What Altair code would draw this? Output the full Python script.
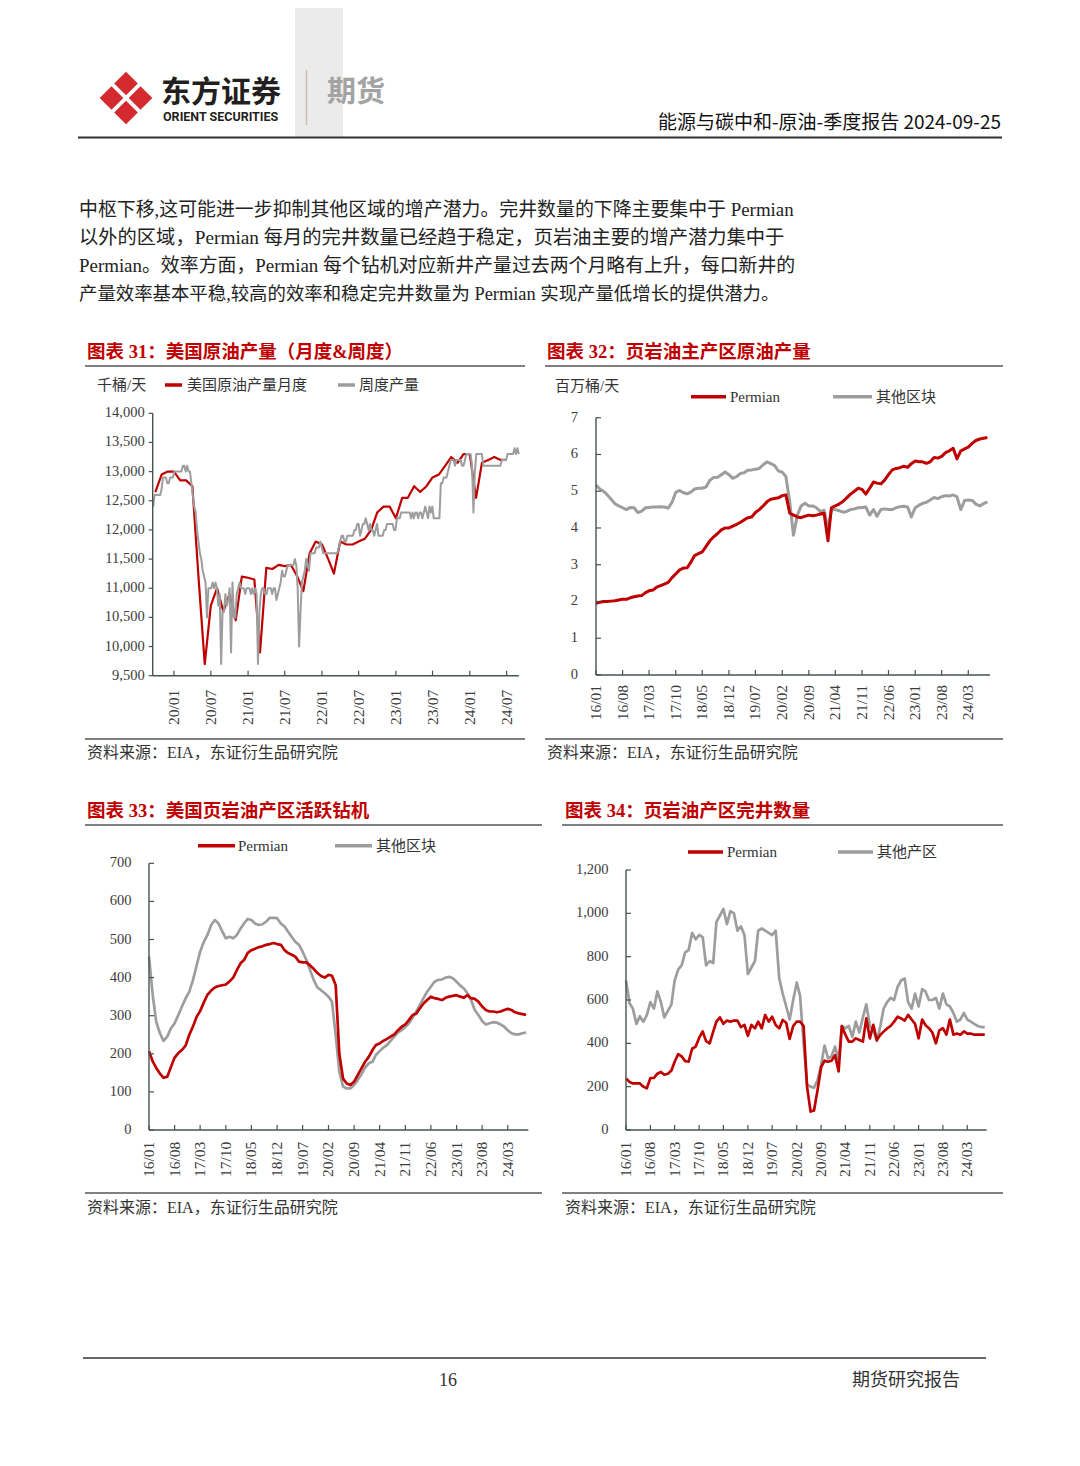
import altair as alt
import pandas as pd

# ---------------- data ----------------
# Chart 31: US crude production, monthly (k b/d), 2019-10 .. 2024-07
m31_start = (2019, 10)
m31_vals = [12650, 12950, 13000,
            13000, 12850, 12850, 12750, 11200, 9700, 10700, 11000, 10600, 10900, 10450, 11200,
            11180, 11150, 9900, 11350, 11330, 11400, 11380, 11400, 11200, 10950, 11600, 11800,
            11750, 11500, 11250, 11800, 11750, 11750, 11800, 11850, 12000, 12300, 12400, 12400,
            12200, 12550, 12550, 12750, 12650, 12750, 12900, 12950, 13100, 13250, 13150, 13300,
            13300, 12550, 13150, 13200, 13250, 13200, 13200]
# weekly production (k b/d), weekly from 2019-09-20
w31_start = "2019-09-20"
w31_vals = [12400, 12600, 12600, 12600, 12600, 12600, 12700, 12900, 12900, 12900,
            12800, 12800, 12900, 12900, 12900, 13000, 13000, 13000, 13000, 13000,
            13000, 13100, 13100, 13000, 13100, 13000, 13000, 12800, 12600, 12400,
            12300, 12000, 11800, 11600, 11500, 11300, 11200, 11100, 10500, 11000,
            11000, 11000, 11100, 11000, 11100, 11000, 10700, 10900, 9700, 10600,
            10600, 10900, 10700, 10800, 11000, 9900, 11100, 10500, 10500, 10900,
            11000, 11100, 11000, 11000, 11000, 10900, 11000, 11000, 11000, 10900,
            11000, 10900, 11000, 10900, 9700, 10600, 10900, 11000, 11000, 10900,
            10900, 11000, 11000, 11000, 10900, 11000, 11000, 10800, 10900, 11000,
            11100, 11300, 11200, 11200, 11300, 11400, 11400, 11400, 11400, 11400,
            11500, 11400, 11000, 10000, 10600, 11100, 11200, 11300, 11500, 11400,
            11300, 11600, 11600, 11600, 11600, 11700, 11700, 11700, 11800, 11700,
            11600, 11600, 11600, 11600, 11600, 11600, 11600, 11600, 11600, 11600,
            11600, 11700, 11800, 11900, 11900, 11800, 11800, 11900, 11900, 11900,
            11900, 11900, 12000, 12000, 12100, 12100, 11900, 12000, 12100, 12100,
            12200, 12100, 12000, 12100, 12000, 12000, 11900, 12000, 12100, 11900,
            11900, 11900, 11900, 12000, 12000, 12100, 12100, 12100, 12100, 12100,
            12000, 12000, 12200, 12200, 12200, 12300, 12300, 12300, 12300, 12300,
            12300, 12300, 12200, 12300, 12200, 12300, 12300, 12200, 12300, 12300,
            12200, 12300, 12400, 12300, 12200, 12400, 12300, 12400, 12200, 12200,
            12200, 12200, 12200, 12800, 12800, 12900, 12900, 12900, 13000, 13100,
            13200, 13200, 13200, 13100, 13200, 13200, 13200, 13200, 13100, 13100,
            13200, 13300, 13300, 13300, 13300, 13100, 12300, 13000, 13300, 13300,
            13300, 13300, 13300, 13100, 13100, 13100, 13100, 13100, 13100, 13100,
            13100, 13100, 13100, 13100, 13100, 13100, 13200, 13200, 13200, 13200,
            13300, 13300, 13300, 13300, 13300, 13400, 13300, 13400, 13300]

# Charts 32-34: monthly from 2016-01
mon_start = (2016, 1)
p32_permian = [1.95, 1.98, 2.0, 2.0, 2.01, 2.02, 2.04, 2.06, 2.06, 2.1, 2.13, 2.15,
               2.16, 2.24, 2.29, 2.31, 2.39, 2.43, 2.47, 2.52, 2.65, 2.75, 2.86, 2.91,
               2.92, 3.08, 3.25, 3.3, 3.35, 3.5, 3.65, 3.76, 3.85, 3.95, 4.0, 4.0,
               4.05, 4.1, 4.15, 4.22, 4.28, 4.3, 4.42, 4.5, 4.6, 4.71, 4.78, 4.8,
               4.82, 4.88, 4.9, 4.4, 4.35, 4.3, 4.28, 4.32, 4.35, 4.33, 4.35, 4.38,
               4.4, 3.65, 4.55, 4.6, 4.65, 4.72, 4.82, 4.92, 5.0, 5.08, 5.05, 4.92,
               5.08, 5.25, 5.22, 5.2, 5.3, 5.45, 5.58, 5.62, 5.64, 5.68, 5.65, 5.75,
               5.82, 5.8, 5.8, 5.76, 5.8, 5.92, 5.9, 5.95, 6.05, 6.1, 6.17, 5.88,
               6.1, 6.15, 6.2, 6.3, 6.38, 6.42, 6.44, 6.46]
p32_other = [5.17, 5.06, 5.0, 4.9, 4.78, 4.66, 4.6, 4.55, 4.5, 4.56, 4.55, 4.42,
             4.46, 4.55, 4.56, 4.57, 4.57, 4.58, 4.57, 4.54, 4.7, 4.97, 5.02, 4.96,
             4.93, 4.98, 5.06, 5.08, 5.08, 5.12, 5.3, 5.37, 5.38, 5.45, 5.52, 5.45,
             5.35, 5.4, 5.48, 5.5, 5.57, 5.58, 5.6, 5.62, 5.72, 5.8, 5.75, 5.7,
             5.55, 5.52, 5.4, 4.7, 3.8, 4.35, 4.6, 4.67, 4.6, 4.6, 4.55, 4.45,
             4.48, 3.98, 4.5, 4.5, 4.47, 4.43, 4.45, 4.5, 4.52, 4.55, 4.56, 4.57,
             4.35, 4.5, 4.32, 4.5, 4.52, 4.5, 4.5, 4.55, 4.58, 4.59, 4.57, 4.3,
             4.55, 4.62, 4.67, 4.7, 4.76, 4.83, 4.8, 4.85, 4.88, 4.87, 4.9, 4.85,
             4.5, 4.75, 4.76, 4.75, 4.65, 4.6, 4.66, 4.71]
p33_permian = [207, 180, 163, 148, 137, 140, 165, 190, 202, 210, 222, 250,
               272, 298, 312, 335, 355, 366, 374, 378, 380, 382, 390, 400,
               420, 438, 446, 465, 472, 476, 480, 482, 486, 488, 491, 488,
               486, 472, 465, 460, 455, 442, 440, 440, 432, 423, 412, 404,
               400, 407, 405, 380, 200, 135, 122, 118, 127, 144, 162, 179,
               192, 210, 223, 227, 234, 239, 245, 251, 262, 271, 277, 289,
               302, 306, 319, 332, 341, 350, 346, 344, 341, 347, 350, 352,
               354, 350, 347, 354, 346, 344, 337, 324, 315, 311, 311, 309,
               311, 315, 318, 315, 309, 306, 304, 302]
p33_other = [455, 354, 284, 254, 234, 245, 267, 280, 302, 324, 346, 363,
             394, 433, 468, 494, 512, 538, 551, 542, 521, 503, 507, 503,
             512, 529, 542, 554, 551, 542, 538, 540, 547, 557, 557, 556,
             542, 534, 521, 507, 494, 486, 468, 446, 420, 394, 374, 367,
             359, 350, 337, 249, 153, 114, 109, 109, 118, 131, 146, 164,
             175, 179, 197, 207, 216, 223, 234, 245, 256, 262, 271, 280,
             295, 312, 328, 346, 363, 376, 389, 394, 395, 400, 402, 398,
             389, 379, 372, 359, 341, 315, 302, 286, 277, 280, 283, 282,
             277, 271, 262, 254, 251, 251, 254, 256]
p34_permian = [238, 222, 215, 215, 215, 200, 192, 240, 240, 260, 268, 255,
               260, 275, 315, 350, 340, 318, 315, 375, 385, 425, 455, 410,
               400, 454, 500, 520, 490, 505, 500, 505, 505, 475, 485, 435,
               485, 469, 500, 469, 531, 500, 523, 485, 469, 508, 495, 420,
               480, 500, 500, 480, 200, 85, 90, 185, 290, 320, 315, 320,
               345, 270, 480, 440, 408, 408, 423, 415, 408, 515, 423, 485,
               415, 440, 454, 469, 480, 500, 523, 515, 505, 531, 510, 490,
               423, 510, 485, 470, 450, 400, 460, 470, 440, 510, 440, 445,
               440, 455, 445, 445, 440, 440, 440, 440]
p34_other = [690, 585, 560, 490, 525, 500, 530, 590, 560, 640, 590, 520,
             550, 580, 690, 740, 760, 820, 830, 910, 880, 900, 890, 760,
             780, 770, 960, 990, 1020, 950, 1010, 1000, 920, 940, 900, 720,
             750, 780, 920, 930, 920, 910, 900, 920, 700, 630, 570, 510,
             600, 680, 620, 400, 210, 200, 195, 230, 300, 390, 330, 340,
             385, 320, 480, 470, 480, 430, 500, 450, 520, 580, 480, 460,
             410, 480, 560, 590, 610, 600, 660, 690, 700, 590, 560, 630,
             570, 650, 640, 600, 600, 610, 560, 630, 580, 570, 540, 500,
             510, 540, 510, 500, 490, 480, 475, 475]

ticks31 = ["2020/01/01", "2020/07/01", "2021/01/01", "2021/07/01", "2022/01/01",
           "2022/07/01", "2023/01/01", "2023/07/01", "2024/01/01", "2024/07/01"]
ticks_mon = ["2016/01/01", "2016/08/01", "2017/03/01", "2017/10/01", "2018/05/01",
             "2018/12/01", "2019/07/01", "2020/02/01", "2020/09/01", "2021/04/01",
             "2021/11/01", "2022/06/01", "2023/01/01", "2023/08/01", "2024/03/01"]
yt31 = [9500, 10000, 10500, 11000, 11500, 12000, 12500, 13000, 13500, 14000]
yt32 = [0, 1, 2, 3, 4, 5, 6, 7]
yt33 = [0, 100, 200, 300, 400, 500, 600, 700]
yt34 = [0, 200, 400, 600, 800, 1000, 1200]


def months(start, n):
    y, m = start
    out = []
    for i in range(n):
        k = (m - 1) + i
        out.append(f"{y + k // 12}/{k % 12 + 1:02d}/01")
    return out


m31_dates = months(m31_start, len(m31_vals))
w31_dates = list(pd.date_range(w31_start, periods=len(w31_vals), freq="7D").strftime("%Y/%m/%d"))
mon_dates = months(mon_start, len(p32_permian))

# ---------------- style ----------------
W, H = 1064, 1450
M = 8
RED = "#c00000"
GRAY = "#9d9d9d"
INK = "#333333"
AX = "#475252"
LAB = "#3c3c3c"
SERIF = "Liberation Serif, Noto Sans CJK SC"
SANS = "Noto Sans CJK SC"
ONE = alt.Data(values=[{"k": 0}])


def dt(s):
    y, m, d = (int(p) for p in s.split("/"))
    return alt.DateTime(year=y, month=m, date=d)


def text(s, x, y, size, color=INK, weight="normal", font=SERIF, align="left"):
    return alt.Chart(ONE).mark_text(
        text=s, fontSize=size, color=color, fontWeight=weight, font=font,
        align=align, baseline="middle").encode(x=alt.value(x - M), y=alt.value(y - M))


def hrule(x1, x2, y, color=INK, w=1.2):
    return alt.Chart(ONE).mark_rule(color=color, strokeWidth=w).encode(
        x=alt.value(x1 - M), x2=alt.value(x2 - M), y=alt.value(y - M))


def panel(series, xdom, xpx, ydom, ypx, xticks, yticks, yfmt, xpad, ypad, ytick_dir):
    xs = alt.Scale(domain=[dt(xdom[0]), dt(xdom[1])], range=[xpx[0] - M, xpx[1] - M])
    ys = alt.Scale(domain=list(ydom), range=[ypx[0] - M, ypx[1] - M], nice=False, zero=False)
    X = lambda f: alt.X(f, scale=xs, axis=None)
    Y = lambda f: alt.Y(f, scale=ys, axis=None)
    layers = []
    for dates, vals, color, width in series:
        df = pd.DataFrame({"d": dates, "v": vals})
        layers.append(alt.Chart(df).mark_line(color=color, strokeWidth=width, strokeJoin="round").encode(
            x=X("d:T"), y=Y("v:Q")))
    # axis lines
    dom = pd.DataFrame({"a": [xdom[0]], "b": [xdom[1]], "lo": [ydom[0]], "hi": [ydom[1]]})
    layers.append(alt.Chart(dom).mark_rule(color=AX, strokeWidth=1.4).encode(
        x=X("a:T"), x2="b:T", y=Y("lo:Q")))
    layers.append(alt.Chart(dom).mark_rule(color=AX, strokeWidth=1.4).encode(
        x=X("a:T"), y=Y("lo:Q"), y2="hi:Q"))
    # x ticks (inward) and rotated labels
    tx = pd.DataFrame({"d": xticks, "b": [ydom[0]] * len(xticks)})
    layers.append(alt.Chart(tx).mark_rule(color=AX, strokeWidth=1.2, y2Offset=-5).encode(
        x=X("d:T"), y=Y("b:Q"), y2="b:Q"))
    layers.append(alt.Chart(tx).mark_text(angle=270, align="right", baseline="middle",
                                          font="Liberation Serif", fontSize=15.5, color=LAB,
                                          yOffset=xpad).encode(
        x=X("d:T"), y=Y("b:Q"), text=alt.Text("d:T", format="%y/%m")))
    # y ticks and labels
    ty = pd.DataFrame({"v": yticks, "d": [xdom[0]] * len(yticks)})
    layers.append(alt.Chart(ty).mark_rule(color=AX, strokeWidth=1.2, x2Offset=ytick_dir).encode(
        x=X("d:T"), x2="d:T", y=Y("v:Q")))
    layers.append(alt.Chart(ty).mark_text(align="right", baseline="middle",
                                          font="Liberation Serif", fontSize=14.5, color=LAB,
                                          xOffset=-ypad).encode(
        x=X("d:T"), y=Y("v:Q"), text=alt.Text("v:Q", format=yfmt)))
    return alt.layer(*layers)


layers = []

# ---------------- header ----------------
layers.append(alt.Chart(ONE).mark_rect(color="#ebebeb").encode(
    x=alt.value(295 - M), x2=alt.value(343 - M), y=alt.value(0), y2=alt.value(137 - M)))
layers.append(alt.Chart(ONE).mark_rule(color="#c9bfae", strokeWidth=1.5).encode(
    x=alt.value(306.5 - M), y=alt.value(70 - M), y2=alt.value(125 - M)))
for cx, cy in [(126, 83.5), (126, 112.5), (111.5, 98), (140.5, 98)]:
    layers.append(alt.Chart(ONE).mark_point(shape="diamond", filled=True, size=560, color="#d42a2f",
                                            opacity=1, strokeWidth=0).encode(
        x=alt.value(cx - M), y=alt.value(cy - M)))
layers.append(text("东方证券", 161, 93, 30, color="#231f20", weight="bold", font=SANS))
layers.append(text("ORIENT SECURITIES", 163, 117, 12.5, color="#231f20", weight="bold", font="Roboto"))
layers.append(text("期货", 327, 93, 29, color="#a3a3a3", weight="bold", font=SANS))
layers.append(text("能源与碳中和-原油-季度报告 2024-09-25", 1001, 123, 19, color="#111111",
                   font=SANS, align="right"))
layers.append(hrule(78, 1002, 137.5, color="#333333", w=2))

# ---------------- paragraph ----------------
para = ["中枢下移,这可能进一步抑制其他区域的增产潜力。完井数量的下降主要集中于 Permian",
        "以外的区域，Permian 每月的完井数量已经趋于稳定，页岩油主要的增产潜力集中于",
        "Permian。效率方面，Permian 每个钻机对应新井产量过去两个月略有上升，每口新井的",
        "产量效率基本平稳,较高的效率和稳定完井数量为 Permian 实现产量低增长的提供潜力。"]
para_size = [18.9, 19.3, 18.9, 18.4]
for i, line in enumerate(para):
    layers.append(text(line, 79, 210 + 28 * i, para_size[i], color="#222222"))

# ---------------- chart 31 ----------------
layers.append(text("图表 31：美国原油产量（月度&周度）", 87, 352, 18.5, color=RED, weight="bold"))
layers.append(hrule(85, 525, 366, color="#555555", w=1.5))
layers.append(text("千桶/天", 97, 385, 15))
layers.append(hrule(165, 182, 385, color=RED, w=3.5))
layers.append(text("美国原油产量月度", 187, 385, 15))
layers.append(hrule(338, 355, 385, color=GRAY, w=3.5))
layers.append(text("周度产量", 359, 385, 15))
layers.append(panel([(m31_dates, m31_vals, RED, 2.2), (w31_dates, w31_vals, GRAY, 2.0)],
                    ("2019/09/18", "2024/08/30"), (152.7, 518.8), (9500, 14000), (675.7, 413.3),
                    ticks31, yt31, ",d", 14, 8, -4))
layers.append(hrule(85, 525, 739, color="#555555", w=1.5))
layers.append(text("资料来源：EIA，东证衍生品研究院", 87, 753, 16))

# ---------------- chart 32 ----------------
layers.append(text("图表 32：页岩油主产区原油产量", 547, 352, 18.5, color=RED, weight="bold"))
layers.append(hrule(545, 1003, 366, color="#555555", w=1.5))
layers.append(text("百万桶/天", 555, 385.5, 15))
layers.append(hrule(691, 726, 396.7, color=RED, w=3.5))
layers.append(text("Permian", 730, 396.7, 15))
layers.append(hrule(833, 872, 396.7, color=GRAY, w=3.5))
layers.append(text("其他区块", 876, 396.7, 15))
layers.append(panel([(mon_dates, p32_other, GRAY, 3.0), (mon_dates, p32_permian, RED, 3.0)],
                    ("2016/01/01", "2024/08/22"), (596, 990), (0, 7), (675, 417.7),
                    ticks_mon, yt32, "d", 10, 18, 5))
layers.append(hrule(545, 1003, 739, color="#555555", w=1.5))
layers.append(text("资料来源：EIA，东证衍生品研究院", 547, 753, 16))

# ---------------- chart 33 ----------------
layers.append(text("图表 33：美国页岩油产区活跃钻机", 87, 811, 18.5, color=RED, weight="bold"))
layers.append(hrule(85, 542, 825, color="#555555", w=1.5))
layers.append(hrule(198, 235, 845.7, color=RED, w=3.5))
layers.append(text("Permian", 238, 845.7, 15))
layers.append(hrule(335, 372, 845.7, color=GRAY, w=3.5))
layers.append(text("其他区块", 376, 845.7, 15))
layers.append(panel([(mon_dates, p33_other, GRAY, 2.7), (mon_dates, p33_permian, RED, 2.7)],
                    ("2016/01/01", "2024/08/19"), (149, 528.3), (0, 700), (1130, 863.3),
                    ticks_mon, yt33, "d", 11.7, 17.5, 5))
layers.append(hrule(85, 542, 1193, color="#555555", w=1.5))
layers.append(text("资料来源：EIA，东证衍生品研究院", 87, 1208, 16))

# ---------------- chart 34 ----------------
layers.append(text("图表 34：页岩油产区完井数量", 565, 811, 18.5, color=RED, weight="bold"))
layers.append(hrule(562, 1003, 825, color="#555555", w=1.5))
layers.append(hrule(688, 723, 852, color=RED, w=3.5))
layers.append(text("Permian", 727, 852, 15))
layers.append(hrule(838, 873, 852, color=GRAY, w=3.5))
layers.append(text("其他产区", 877, 852, 15))
layers.append(panel([(mon_dates, p34_other, GRAY, 2.7), (mon_dates, p34_permian, RED, 2.7)],
                    ("2016/01/01", "2024/08/18"), (626, 986.7), (0, 1200), (1130, 870),
                    ticks_mon, yt34, ",d", 11.7, 17.5, 5))
layers.append(hrule(562, 1003, 1193, color="#555555", w=1.5))
layers.append(text("资料来源：EIA，东证衍生品研究院", 565, 1208, 16))

# ---------------- footer ----------------
layers.append(hrule(83, 986, 1358, color="#333333", w=1.5))
layers.append(text("16", 448, 1381, 18, align="center"))
layers.append(text("期货研究报告", 960, 1381, 18, align="right"))

chart = alt.layer(*layers).resolve_scale(x="independent", y="independent").properties(
    width=W, height=H, autosize=alt.AutoSizeParams(type="none"), padding=0, background="white"
).configure_view(stroke=None)

chart.save("out.html", embed_options={"renderer": "svg", "actions": False})
